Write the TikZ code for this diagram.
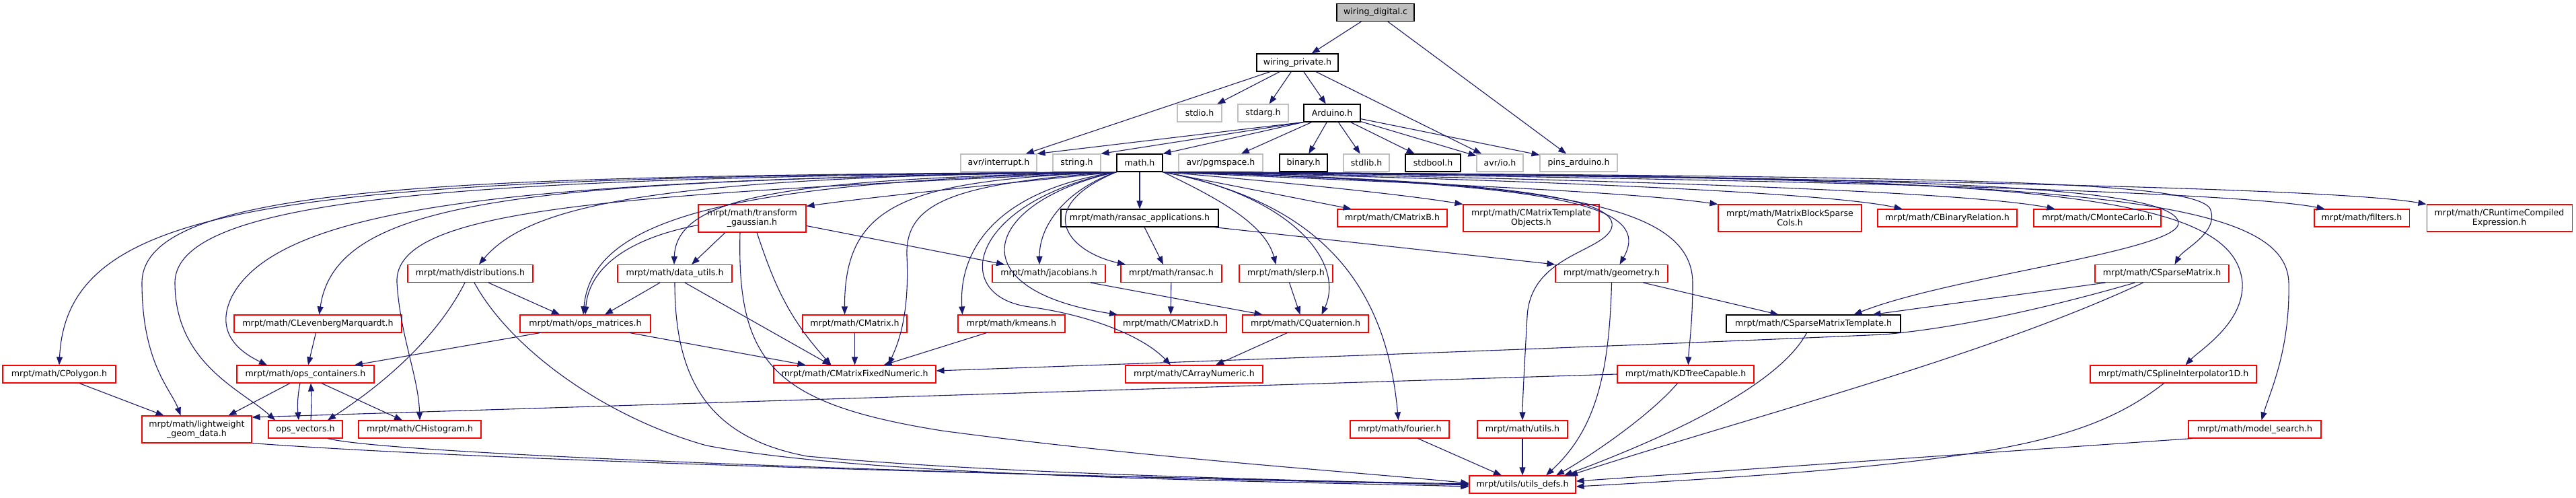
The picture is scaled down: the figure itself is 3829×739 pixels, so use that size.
\documentclass[tikz,border=0pt]{standalone}
\usepackage{fontspec}
\setmainfont{DejaVu Sans}
\usetikzlibrary{arrows.meta,calc}
\definecolor{edgec}{HTML}{191970}
\definecolor{dred}{HTML}{FF0000}
\definecolor{lgray}{HTML}{BFBFBF}
\begin{document}
\begin{tikzpicture}[x=1pt,y=-1pt,
  box/.style={draw, line width=1.1pt, fill=white, inner sep=0pt, minimum height=26pt, font=\fontsize{12.6}{14}\selectfont, align=center},
  rbox/.style={box, draw=dred},
  gbox/.style={box, draw=lgray},
  kbox/.style={box, draw=black},
  e/.style={draw=edgec, line width=1.1pt, -{Triangle[length=12pt,width=9pt]}},
]
\fill[white] (0,0) rectangle (3829,739);
\useasboundingbox (0,0) rectangle (3829,739);

% ---- nodes ----
\node[kbox, fill=lgray, minimum width=115pt] (wd) at (2044.5,18.5) {wiring\_digital.c};
\node[kbox, minimum width=121pt] (wp) at (1928.5,93) {wiring\_private.h};
\node[gbox, minimum width=66pt] (sio) at (1783,168) {stdio.h};
\node[gbox, minimum width=75pt] (sarg) at (1877.5,168) {stdarg.h};
\node[kbox, minimum width=84pt] (ard) at (1980,168) {Arduino.h};

\node[gbox, minimum width=113pt] (avri) at (1484.5,242) {avr/interrupt.h};
\node[gbox, minimum width=71pt] (str) at (1600.5,242) {string.h};
\node[kbox, minimum width=68pt] (mth) at (1694,242) {math.h};
\node[gbox, minimum width=125pt] (pgm) at (1814.5,242) {avr/pgmspace.h};
\node[kbox, minimum width=71pt] (bin) at (1937.5,242) {binary.h};
\node[gbox, minimum width=68pt] (slib) at (2031,242) {stdlib.h};
\node[kbox, minimum width=82pt] (sbool) at (2130,242) {stdbool.h};
\node[gbox, minimum width=69pt] (avrio) at (2229.5,242) {avr/io.h};
\node[gbox, minimum width=115pt] (pins) at (2346.5,242) {pins\_arduino.h};

\node[rbox, minimum width=160pt, minimum height=41pt] (tg) at (1118,324.5) {mrpt/math/transform\\\_gaussian.h};
\node[kbox, minimum width=234pt] (rapp) at (1694,324) {mrpt/math/ransac\_applications.h};
\node[rbox, minimum width=163pt] (cmb) at (2069.5,324) {mrpt/math/CMatrixB.h};
\node[rbox, minimum width=202pt, minimum height=40pt] (cmto) at (2276,324) {mrpt/math/CMatrixTemplate\\Objects.h};
\node[rbox, minimum width=213pt, minimum height=40pt] (mbsc) at (2660.5,324) {mrpt/math/MatrixBlockSparse\\Cols.h};
\node[rbox, minimum width=207pt] (cbr) at (2894.5,324) {mrpt/math/CBinaryRelation.h};
\node[rbox, minimum width=189pt] (cmc) at (3117.5,324) {mrpt/math/CMonteCarlo.h};
\node[rbox, minimum width=141pt] (filt) at (3510.5,324) {mrpt/math/filters.h};
\node[rbox, minimum width=216pt, minimum height=40pt] (crt) at (3715,324) {mrpt/math/CRuntimeCompiled\\Expression.h};

\node[rbox, minimum width=186pt] (dist) at (699,406.5) {mrpt/math/distributions.h};
\node[rbox, minimum width=170pt] (dutil) at (1003,406.5) {mrpt/math/data\_utils.h};
\node[rbox, minimum width=168pt] (jac) at (1559,406.5) {mrpt/math/jacobians.h};
\node[rbox, minimum width=150pt] (rans) at (1741,406.5) {mrpt/math/ransac.h};
\node[rbox, minimum width=139pt] (slerp) at (1911.5,406.5) {mrpt/math/slerp.h};
\node[rbox, minimum width=167pt] (geom) at (2395.5,406.5) {mrpt/math/geometry.h};
\node[rbox, minimum width=199pt] (csm) at (3213.5,406.5) {mrpt/math/CSparseMatrix.h};

\node[rbox, minimum width=249pt] (clm) at (472.5,481) {mrpt/math/CLevenbergMarquardt.h};
\node[rbox, minimum width=194pt] (opsm) at (870,481) {mrpt/math/ops\_matrices.h};
\node[rbox, minimum width=155pt] (cmat) at (1270.5,481) {mrpt/math/CMatrix.h};
\node[rbox, minimum width=159pt] (kmeans) at (1503.5,481) {mrpt/math/kmeans.h};
\node[rbox, minimum width=166pt] (cmd) at (1740,481) {mrpt/math/CMatrixD.h};
\node[rbox, minimum width=187pt] (cq) at (1940.5,481) {mrpt/math/CQuaternion.h};
\node[kbox, minimum width=259pt] (csmt) at (2695.5,481) {mrpt/math/CSparseMatrixTemplate.h};

\node[rbox, minimum width=168pt] (cpoly) at (88,556) {mrpt/math/CPolygon.h};
\node[rbox, minimum width=204pt] (opsc) at (454,556) {mrpt/math/ops\_containers.h};
\node[rbox, minimum width=241pt] (cmfn) at (1270.5,556) {mrpt/math/CMatrixFixedNumeric.h};
\node[rbox, minimum width=204pt] (can) at (1775,556) {mrpt/math/CArrayNumeric.h};
\node[rbox, minimum width=203pt] (kdt) at (2505.5,556) {mrpt/math/KDTreeCapable.h};
\node[rbox, minimum width=247pt] (csi) at (3230.5,556) {mrpt/math/CSplineInterpolator1D.h};

\node[rbox, minimum width=163pt, minimum height=40pt] (lwg) at (292.5,638) {mrpt/math/lightweight\\\_geom\_data.h};
\node[rbox, minimum width=110pt] (opsv) at (454,638) {ops\_vectors.h};
\node[rbox, minimum width=182pt] (chist) at (624,638) {mrpt/math/CHistogram.h};
\node[rbox, minimum width=147pt] (four) at (2080.5,638) {mrpt/math/fourier.h};
\node[rbox, minimum width=134pt] (utl) at (2263,638) {mrpt/math/utils.h};
\node[rbox, minimum width=197pt] (msearch) at (3351.5,638) {mrpt/math/model\_search.h};

\node[rbox, minimum width=158pt] (udefs) at (2263,720) {mrpt/utils/utils\_defs.h};

% ---- top edges ----
\draw[e] (wd) -- (wp);
\draw[e] (wd) -- (pins);
\draw[e] (wp) -- (avri);
\draw[e] (wp) -- (sio);
\draw[e] (wp) -- (sarg);
\draw[e] (wp) -- (ard);
\draw[e] (wp) -- (avrio);
\draw[e] (ard.south west) -- (avri.north east);
\draw[e] (ard.south west) -- (str.north east);
\draw[e] (ard.south west) -- (mth.north east);
\draw[e] (ard) -- (pgm);
\draw[e] (ard) -- (bin);
\draw[e] (ard) -- (slib);
\draw[e] (ard) -- (sbool);
\draw[e] (ard) -- (avrio);
\draw[e] (ard) -- (pins);

% ---- math.h, leftwards ----
\draw[e] (mth.south west) .. controls (450,264) and (100,290) .. (cpoly.north);
\draw[e] (mth.south west) .. controls (700,262) and (212,270) .. (211,420) .. controls (211,540) and (255,580) .. ([xshift=-24pt]lwg.north);
\draw[e] (mth.south west) .. controls (750,264) and (261,285) .. (260,420) .. controls (260,540) and (360,580) .. ([xshift=-45pt]opsv.north);
\draw[e] (mth.south west) .. controls (800,266) and (420,300) .. (345,440) .. controls (320,490) and (350,520) .. ([xshift=-57pt]opsc.north);
\draw[e] (mth.south west) .. controls (800,268) and (500,290) .. ([xshift=2pt]clm.north);
\draw[e] (mth.south west) .. controls (900,290) and (585,310) .. (590,420) .. controls (595,500) and (622,560) .. (chist.north);
\draw[e] (mth.south west) .. controls (1000,262) and (790,300) .. ([xshift=13pt]dist.north);
\draw[e] (mth.south west) .. controls (1500,272) and (1300,292) .. ([yshift=-3pt]tg.north east);
\draw[e] (mth.south west) .. controls (1200,266) and (1005,285) .. ([xshift=-1pt]dutil.north);
\draw[e] (mth.south west) .. controls (1100,270) and (880,320) .. ([xshift=-3pt]opsm.north);
\draw[e] (mth.south west) .. controls (1420,272) and (1345,300) .. (1348,380) .. controls (1352,470) and (1335,510) .. ([xshift=50pt]cmfn.north);
\draw[e] (mth.south west) .. controls (1350,268) and (1255,300) .. ([xshift=-15pt]cmat.north);
\draw[e] (mth.south west) .. controls (1470,285) and (1425,380) .. ([xshift=-73pt]kmeans.north);
\draw[e] (mth.south west) .. controls (1590,280) and (1545,330) .. ([xshift=-14pt]jac.north);
\draw[e] (mth.south west) .. controls (1530,310) and (1590,375) .. ([xshift=-68pt]rans.north);
\draw[e] (mth.south west) .. controls (1460,300) and (1420,430) .. ([xshift=-79pt]cmd.north);
\draw[e] (mth.south west) .. controls (1440,300) and (1410,440) .. (1530,456) .. controls (1620,468) and (1700,500) .. ([xshift=-35pt]can.north);
\draw[e] (mth) -- (rapp);

% ---- math.h, rightwards ----
\draw[e] (mth.south east) .. controls (1800,290) and (1880,330) .. ([xshift=-15pt]slerp.north);
\draw[e] (mth.south east) .. controls (1920,290) and (2000,390) .. ([xshift=24pt]cq.north);
\draw[e] (mth.south east) .. controls (1960,300) and (2060,420) .. ([xshift=-2pt]four.north);
\draw[e] (mth.south east) -- ([xshift=-61pt]cmb.north);
\draw[e] (mth.south east) .. controls (1900,270) and (2080,288) .. (cmto.north west);
\draw[e] (mth.south east) .. controls (2000,268) and (2400,282) .. (mbsc.north west);
\draw[e] (mth.south east) .. controls (2100,262) and (2700,282) .. ([xshift=-67pt]cbr.north);
\draw[e] (mth.south east) .. controls (2200,262) and (2900,280) .. ([xshift=-63pt]cmc.north);
\draw[e] (mth.south east) .. controls (2400,262) and (3300,280) .. ([xshift=-55pt]filt.north);
\draw[e] (mth.south east) .. controls (2500,262) and (3450,275) .. (crt.north west);
\draw[e] (mth.south east) .. controls (2900,262) and (3260,268) .. (3285,310) .. controls (3300,345) and (3245,370) .. ([xshift=19pt]csm.north);
\draw[e] (mth.south east) .. controls (2800,262) and (3225,272) .. (3238,330) .. controls (3246,372) and (2900,410) .. ([xshift=60pt]csmt.north);
\draw[e] (mth.south east) .. controls (2950,262) and (3320,272) .. (3333,420) .. controls (3336,480) and (3270,520) .. ([xshift=18pt]csi.north);
\draw[e] (mth.south east) .. controls (3050,262) and (3398,285) .. (3402,420) .. controls (3404,520) and (3375,580) .. ([xshift=10pt]msearch.north);
\draw[e] (mth.south east) .. controls (2300,270) and (2515,300) .. (2516,420) .. controls (2516,480) and (2510,520) .. ([xshift=4pt]kdt.north);
\draw[e] (mth.south east) .. controls (2300,272) and (2460,300) .. ([xshift=12pt]geom.north);
\draw[e] (mth.south east) .. controls (2250,268) and (2412,295) .. (2395,340) .. controls (2380,375) and (2275,380) .. (2270,470) .. controls (2265,560) and (2263,600) .. (utl.north);

% ---- other edges ----
\draw[e] ([xshift=7pt]rapp.south) -- ([xshift=-12pt]rans.north);
\draw[e] ([xshift=110pt]rapp.south) -- (geom.north west);

\draw[e] ([xshift=-40pt]tg.south) -- ([xshift=25pt]dutil.north);
\draw[e] ([yshift=-10pt]tg.west) .. controls (930,355) and (875,400) .. (opsm.north);
\draw[e] ([yshift=-11pt]tg.east) -- ([xshift=-66pt]jac.north);
\draw[e] ([xshift=7pt]tg.south) .. controls (1150,420) and (1170,470) .. ([xshift=-35pt]cmfn.north);
\draw[e] ([xshift=-18pt]tg.south) .. controls (1095,540) and (1150,600) .. (1400,640) .. controls (1700,680) and (2000,700) .. ([yshift=2pt]udefs.west);

\draw[e] ([xshift=-22pt]dutil.south) -- ([xshift=29pt]opsm.north);
\draw[e] ([xshift=15pt]dutil.south) -- ([xshift=-36pt]cmfn.north);
\draw[e] (dutil.south) .. controls (1003,560) and (1050,650) .. (1200,678) .. controls (1500,705) and (1900,712) .. ([yshift=-1pt]udefs.west);

\draw[e] ([xshift=27pt]dist.south) -- ([xshift=-38pt]opsm.north);
\draw[e] ([xshift=-8pt]dist.south) .. controls (640,520) and (540,590) .. ([xshift=33pt]opsv.north);
\draw[e] ([xshift=6pt]dist.south) .. controls (760,520) and (900,620) .. (1050,662) .. controls (1300,710) and (1900,715) .. ([yshift=-3pt]udefs.west);

\draw[e] ([xshift=-3pt]clm.south) -- ([xshift=4pt]opsc.north);
\draw[e] ([xshift=-67pt]opsm.south) -- ([xshift=73pt]opsc.north);
\draw[e] ([xshift=66pt]opsm.south) -- ([xshift=-73pt]cmfn.north);
\draw[e] (cmat) -- (cmfn);
\draw[e] ([xshift=-37pt]kmeans.south) -- ([xshift=43pt]cmfn.north);
\draw[e] (rans) -- (cmd);
\draw[e] ([xshift=62pt]jac.south) -- ([xshift=-64pt]cq.north);
\draw[e] ([xshift=5pt]slerp.south) -- ([xshift=-8pt]cq.north);
\draw[e] ([xshift=-27pt]cq.south) -- ([xshift=32pt]can.north);

\draw[e] ([xshift=47pt]geom.south) -- ([xshift=-52pt]csmt.north);
\draw[e] (geom.south) .. controls (2392,560) and (2370,640) .. ([xshift=35pt]udefs.north);
\draw[e] ([xshift=-84pt]csm.south) -- ([xshift=88pt]csmt.north);
\draw[e] ([xshift=-40pt]csm.south) .. controls (3000,470) and (2880,490) .. (2800,497) .. controls (2400,515) and (1700,540) .. ([yshift=5pt]cmfn.east);
\draw[e] ([xshift=-28pt]csm.south) .. controls (2950,530) and (2600,620) .. ([xshift=70pt]udefs.north);
\draw[e] ([xshift=-10pt]csmt.south) .. controls (2640,580) and (2450,660) .. ([xshift=62pt]udefs.north);
\draw[e] ([xshift=-12pt]kdt.south) .. controls (2450,620) and (2360,680) .. ([xshift=50pt]udefs.north);
\draw[e] (kdt.west) -- ([yshift=18pt]lwg.east);
\draw[e] ([xshift=27pt]four.south) -- ([xshift=-31pt]udefs.north);
\draw[e] (utl) -- (udefs);
\draw[e] ([xshift=-14pt]csi.south) .. controls (3100,660) and (2950,690) .. ([yshift=-3pt]udefs.east);
\draw[e] ([xshift=6pt]msearch.south west) -- ([yshift=5pt]udefs.east);

\draw[e] (lwg.south east) .. controls (800,690) and (1800,712) .. ([yshift=1pt]udefs.west);
\draw[e] ([xshift=33pt]opsv.south) .. controls (600,680) and (1700,712) .. (udefs.west);
\draw[e] ([xshift=-23pt]opsc.south) -- ([xshift=47pt]lwg.north);
\draw[e] ([xshift=-8pt]opsc.south) .. controls (442,590) and (442,605) .. ([xshift=-10pt]opsv.north);
\draw[e] ([xshift=8pt]opsv.north) .. controls (463,605) and (463,590) .. ([xshift=8pt]opsc.south);
\draw[e] ([xshift=24pt]opsc.south) -- ([xshift=-26pt]chist.north);
\draw[e] ([xshift=30pt]cpoly.south) -- ([xshift=-49pt]lwg.north);
\end{tikzpicture}
\end{document}
